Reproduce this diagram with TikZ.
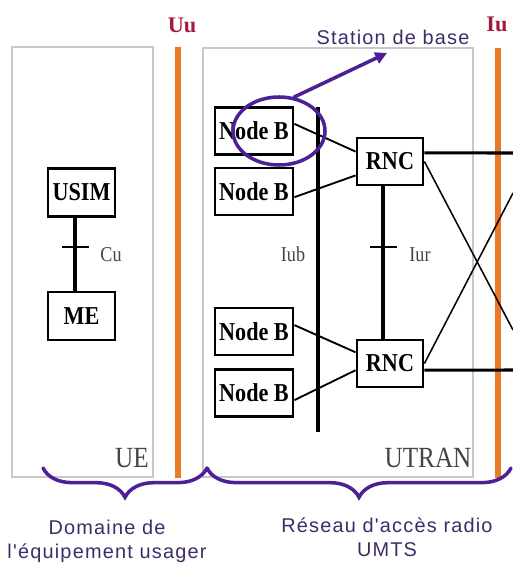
\documentclass[tikz,border=0pt]{standalone}
\usepackage{fontspec}
\setmainfont{Liberation Serif}
\newfontfamily\boxfont{Liberation Serif}[FakeStretch=0.86]
\newfontfamily\callfont{Liberation Sans}[LetterSpace=6]
\usetikzlibrary{arrows.meta,shapes.geometric,decorations.pathreplacing}
\definecolor{ifaceorange}{RGB}{232,122,40}
\definecolor{ifacered}{RGB}{165,25,60}
\definecolor{markpurple}{RGB}{78,32,150}
\definecolor{calltext}{RGB}{62,44,104}
\definecolor{zonegray}{RGB}{200,200,200}
\definecolor{taggray}{RGB}{68,68,68}
\tikzset{
  eqbox/.style={draw, line width=2.4pt, fill=white, inner sep=0pt, minimum width=2.34cm, minimum height=1.41cm, font=\boxfont\bfseries\fontsize{22}{24}\selectfont},
  rncbox/.style={eqbox, minimum width=1.98cm},
  uebox/.style={eqbox, minimum width=2.01cm, minimum height=1.44cm},
  zonebox/.style={draw=zonegray, line width=1pt},
  ifline/.style={draw=ifaceorange, line width=4.3pt},
  ifname/.style={text=ifacered, font=\bfseries\fontsize{19}{20}\selectfont},
  taglabel/.style={text=taggray, font=\boxfont\fontsize{18}{19}\selectfont},
  zonename/.style={text=taggray, font=\boxfont\fontsize{25}{26}\selectfont},
  calllabel/.style={text=calltext, font=\callfont\fontsize{17}{20.5}\selectfont, align=center},
  link/.style={line width=1.6pt},
  trunk/.style={line width=2.6pt},
  xlink/.style={line width=1.3pt},
  markline/.style={draw=markpurple, line width=3pt, line cap=round}
}

\begin{document}
\begin{tikzpicture}[x=0.03cm, y=-0.03cm]
  \useasboundingbox (0,0) rectangle (513,565);
  \fill[white] (0,0) rectangle (513,565);

  % domains and interfaces
  \draw[zonebox] (12,47) rectangle (153,477);
  \draw[zonebox] (203,48) rectangle (473,477);
  \coordinate (uutop) at (178,47);
  \coordinate (uubot) at (178,478);
  \coordinate (iutop) at (498,48);
  \coordinate (iubot) at (498,478);
  \draw[ifline] (uutop) -- (uubot);
  \draw[ifline] (iutop) -- (iubot);
  \node[ifname] (uu) at (182,25) {Uu};
  \node[ifname] (iu) at (497,24) {Iu};

  % UE side
  \node[uebox] (usim) at (81.5,192.5) {USIM};
  \node[uebox] (me) at (81.5,316) {ME};
  \coordinate (cux) at (75,0);
  \draw[trunk] (usim.south -| cux) -- (me.north -| cux);
  \draw[xlink] (62,247) -- (89,247);
  \node[taglabel] (cu) at (111,255) {Cu};
  \node[zonename] (ue) at (132,458) {UE};

  % UTRAN side
  \node[eqbox] (nb1) at (254,131) {Node B};
  \node[eqbox] (nb2) at (254,191.5) {Node B};
  \node[eqbox] (nb3) at (254,331.5) {Node B};
  \node[eqbox] (nb4) at (254,393) {Node B};
  \node[rncbox] (rnc1) at (390,161.5) {RNC};
  \node[rncbox] (rnc2) at (390,363.5) {RNC};

  \coordinate (iubtop) at (318,107);
  \coordinate (iubbot) at (318,432);
  \coordinate (iurx) at (383,0);
  \coordinate (cn1) at (513,153);
  \coordinate (cn2) at (513,370);
  \coordinate (cn3) at (513,330);
  \coordinate (cn4) at (513,193);

  \draw[link] (nb1.10) -- (rnc1.164);
  \draw[link] (nb2.-8) -- (rnc1.202);
  \draw[link] (nb3.9) -- (rnc2.162);
  \draw[link] (nb4.-10) -- (rnc2.191);
  \draw[trunk] (iubtop) -- (iubbot);
  \draw[trunk] (rnc1.south -| iurx) -- (rnc2.north -| iurx);
  \draw[xlink] (370,247) -- (397,247);
  \draw[trunk] (rnc1.14) -- (cn1);
  \draw[trunk] (rnc2.-11) -- (cn2);
  \draw[xlink] (rnc1.east) -- (cn3);
  \draw[xlink] (rnc2.east) -- (cn4);
  \node[taglabel] (iub) at (293,254) {Iub};
  \node[taglabel] (iur) at (420,255) {Iur};
  \node[zonename] (utran) at (428,458) {UTRAN};

  % base station callout
  \node[markline, ellipse, minimum width=2.76cm, minimum height=2.04cm, inner sep=0pt] (sb) at (279,131) {};
  \coordinate (sbtip) at (387,53);
  \draw[markline, -{Triangle[length=10pt,width=10pt]}] (sb.66) -- (sbtip);
  \node[calllabel] (sblab) at (393,37) {Station de base};

  % domain braces
  \draw[markline, decorate, decoration={brace, amplitude=25pt, mirror}] (43,468) -- (207,468);
  \draw[markline, decorate, decoration={brace, amplitude=25pt, mirror}] (207,468) -- (511,468);
  \node[calllabel] (uedom) at (107,541) {Domaine de\\l'équipement usager};
  \node[calllabel] (random) at (387,537) {Réseau d'accès radio\\UMTS};
\end{tikzpicture}
\end{document}
